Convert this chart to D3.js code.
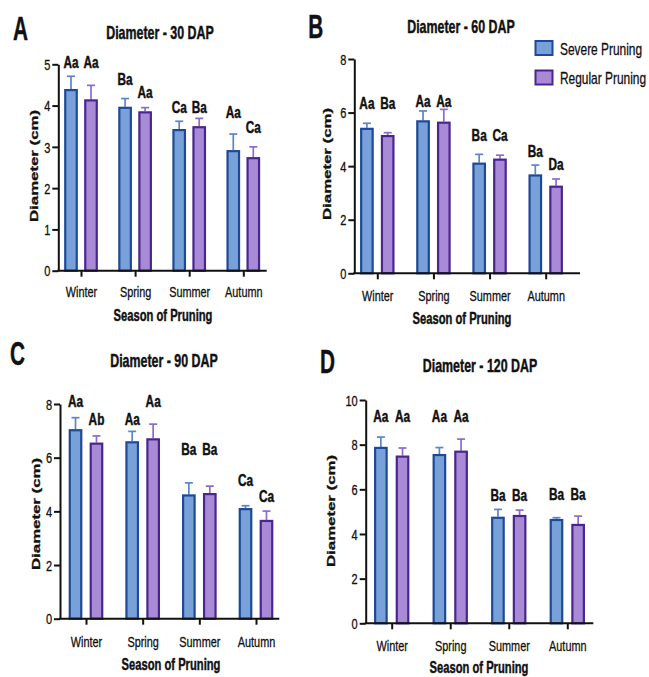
<!DOCTYPE html>
<html><head><meta charset="utf-8">
<script src="https://cdn.jsdelivr.net/npm/d3@7"></script>
<style>body{margin:0;background:#fff} svg{display:block} text{font-family:"Liberation Sans",Arial,sans-serif}</style>
</head><body><svg id="c" width="649" height="677"></svg>
<script>
// ---------- data ----------
const seasons = ["Winter", "Spring", "Summer", "Autumn"];
const seriesNames = ["Severe Pruning", "Regular Pruning"];
const panelTitles = ["Diameter - 30 DAP", "Diameter - 60 DAP", "Diameter - 90 DAP", "Diameter - 120 DAP"];
const panelTags = ["A", "B", "C", "D"];
const yAxisTitle = "Diameter (cm)";
const xAxisTitle = "Season of Pruning";
const yMaxes = [5, 8, 8, 10];
const yTickSteps = [1, 2, 2, 2];

// 30 DAP
const severe30 = [4.40, 3.97, 3.43, 2.92];
const severe30Err = [0.31, 0.20, 0.19, 0.39];
const regular30 = [4.15, 3.86, 3.50, 2.75];
const regular30Err = [0.34, 0.09, 0.19, 0.25];
const severe30Letters = ["Aa", "Ba", "Ca", "Aa"];
const regular30Letters = ["Aa", "Aa", "Ba", "Ca"];
const severe30LetterAt = [5.05, 4.64, 3.96, 3.84];
const regular30LetterAt = [5.05, 4.33, 3.96, 3.48];
// 60 DAP
const severe60 = [5.43, 5.71, 4.13, 3.69];
const severe60Err = [0.17, 0.35, 0.31, 0.35];
const regular60 = [5.16, 5.66, 4.28, 3.27];
const regular60Err = [0.09, 0.46, 0.13, 0.25];
const severe60Letters = ["Aa", "Aa", "Ba", "Ba"];
const regular60Letters = ["Ba", "Aa", "Ca", "Da"];
const severe60LetterAt = [6.34, 6.43, 5.16, 4.57];
const regular60LetterAt = [6.34, 6.43, 5.16, 4.08];
// 90 DAP
const severe90 = [7.06, 6.61, 4.63, 4.12];
const severe90Err = [0.43, 0.37, 0.43, 0.09];
const regular90 = [6.56, 6.72, 4.68, 3.68];
const regular90Err = [0.25, 0.53, 0.26, 0.33];
const severe90Letters = ["Aa", "Aa", "Ba", "Ca"];
const regular90Letters = ["Ab", "Aa", "Ba", "Ca"];
const severe90LetterAt = [8.09, 7.43, 6.32, 5.16];
const regular90LetterAt = [7.43, 8.09, 6.32, 4.55];
// 120 DAP
const severe120 = [7.90, 7.58, 4.77, 4.67];
const severe120Err = [0.44, 0.29, 0.33, 0.06];
const regular120 = [7.51, 7.73, 4.85, 4.45];
const regular120Err = [0.34, 0.52, 0.22, 0.35];
const severe120Letters = ["Aa", "Aa", "Ba", "Ba"];
const regular120Letters = ["Aa", "Aa", "Ba", "Ba"];
const severe120LetterAt = [9.28, 9.28, 5.75, 5.79];
const regular120LetterAt = [9.28, 9.28, 5.75, 5.79];

// ---------- styles / layout ----------
const S = 0.72; // horizontal squish of the original figure
const colors = {
  severe: { fill: "#79a1d9", stroke: "#1d4996", err: "#5a85cc" },
  regular: { fill: "#a88ad7", stroke: "#48268e", err: "#8b6cca" }
};
const layouts = [
  { x0: 58.3, xEnd: 266.7, yTop: 64.3, yBot: 270.7, c0: 81, c1: 243.3, titleX: 160, titleY: 39.3, tagX: 13, tagY: 40, yTitleX: 37.5, yTitleY: 166, tickDy: 26, xTitleX: 163, xTitleY: 320.5 },
  { x0: 354.3, xEnd: 580, yTop: 59, yBot: 273.3, c0: 377.3, c1: 545.7, titleX: 461, titleY: 32.5, tagX: 308.3, tagY: 38.3, yTitleX: 331, yTitleY: 164, tickDy: 27.7, xTitleX: 462, xTitleY: 324 },
  { x0: 60, xEnd: 279.3, yTop: 404, yBot: 618.7, c0: 86, c1: 256, titleX: 164, titleY: 366.5, tagX: 10, tagY: 365, yTitleX: 40, yTitleY: 514, tickDy: 28.3, xTitleX: 171, xTitleY: 670 },
  { x0: 365.7, xEnd: 593.3, yTop: 400, yBot: 623.3, c0: 391.7, c1: 567.3, titleX: 480, titleY: 371.5, tagX: 320, tagY: 373.3, yTitleX: 335, yTitleY: 511, tickDy: 27.7, xTitleX: 479, xTitleY: 673 }
];

const panels = [
  { sev: severe30, sevErr: severe30Err, reg: regular30, regErr: regular30Err, sevL: severe30Letters, regL: regular30Letters, sevLA: severe30LetterAt, regLA: regular30LetterAt },
  { sev: severe60, sevErr: severe60Err, reg: regular60, regErr: regular60Err, sevL: severe60Letters, regL: regular60Letters, sevLA: severe60LetterAt, regLA: regular60LetterAt },
  { sev: severe90, sevErr: severe90Err, reg: regular90, regErr: regular90Err, sevL: severe90Letters, regL: regular90Letters, sevLA: severe90LetterAt, regLA: regular90LetterAt },
  { sev: severe120, sevErr: severe120Err, reg: regular120, regErr: regular120Err, sevL: severe120Letters, regL: regular120Letters, sevLA: severe120LetterAt, regLA: regular120LetterAt }
];

const svg = d3.select("#c");

function label(parent, x, y, str, o) {
  const g = parent.append("g")
    .attr("transform", `translate(${x},${y}) scale(${o.sx ?? S},1)` + (o.rot ? " rotate(-90)" : ""));
  return g.append("text")
    .attr("text-anchor", o.anchor || "middle")
    .attr("font-size", o.size)
    .attr("font-weight", o.weight || "normal")
    .attr("fill", "#111")
    .attr("stroke", "#111").attr("stroke-width", o.weight === "bold" ? 0.45 : 0.3)
    .text(str);
}

panels.forEach((p, i) => {
  const L = layouts[i];
  const g = svg.append("g");
  const y = d3.scaleLinear().domain([0, yMaxes[i]]).range([L.yBot, L.yTop]);
  const x = d3.scalePoint().domain(seasons).range([L.c0, L.c1]);
  const step = x.step();
  const off = step * 0.185, bw = 13.5;

  const series = [
    { vals: p.sev, err: p.sevErr, lab: p.sevL, la: p.sevLA, c: colors.severe, dx: -off },
    { vals: p.reg, err: p.regErr, lab: p.regL, la: p.regLA, c: colors.regular, dx: off }
  ];
  series.forEach(s => {
    seasons.forEach((season, k) => {
      const cx = x(season) + s.dx;
      const v = s.vals[k], e = s.err[k];
      g.append("line").attr("x1", cx).attr("x2", cx).attr("y1", y(v)).attr("y2", y(v + e))
        .attr("stroke", s.c.err).attr("stroke-width", 1.7);
      g.append("line").attr("x1", cx - 4).attr("x2", cx + 4).attr("y1", y(v + e)).attr("y2", y(v + e))
        .attr("stroke", s.c.err).attr("stroke-width", 1.7);
      g.append("rect").attr("x", cx - bw / 2 + 1).attr("y", y(v) + 1)
        .attr("width", bw - 2).attr("height", y(0) - y(v) - 1)
        .attr("fill", s.c.fill).attr("stroke", s.c.stroke).attr("stroke-width", 2.2);
      label(g, cx, y(s.la[k]) + 5.8, s.lab[k], { size: 16, weight: "bold", sx: 0.74 });
    });
  });

  // y axis
  const yAxis = d3.axisLeft(y).tickValues(d3.range(0, yMaxes[i] + 0.001, yTickSteps[i]))
    .tickSize(6).tickSizeOuter(0).tickFormat(d3.format("d"));
  const ya = g.append("g").attr("transform", `translate(${L.x0},0)`).call(yAxis);
  ya.select(".domain").attr("stroke", "#111").attr("stroke-width", 2);
  ya.selectAll(".tick line").attr("stroke", "#111").attr("stroke-width", 2);
  ya.selectAll(".tick text").attr("x", 0).attr("dy", "0.36em")
    .attr("transform", `translate(-8,0) scale(0.76,1)`)
    .attr("font-size", 14.5).attr("fill", "#111").attr("stroke", "#111").attr("stroke-width", 0.3)
    .attr("font-family", null);

  // x axis
  const xAxis = d3.axisBottom(x).tickSize(6).tickSizeOuter(0);
  const xa = g.append("g").attr("transform", `translate(0,${L.yBot})`).call(xAxis);
  xa.select(".domain").remove();
  xa.append("line").attr("x1", L.x0 - 1).attr("x2", L.xEnd).attr("y1", 0).attr("y2", 0)
    .attr("stroke", "#111").attr("stroke-width", 2);
  xa.selectAll(".tick line").attr("stroke", "#111").attr("stroke-width", 2);
  xa.selectAll(".tick text").attr("y", 0).attr("dy", 0)
    .attr("transform", `translate(0,${L.tickDy}) scale(0.75,1)`)
    .attr("font-size", 14.5).attr("fill", "#111").attr("stroke", "#111").attr("stroke-width", 0.3)
    .attr("font-family", null);

  // titles
  label(g, L.titleX, L.titleY, panelTitles[i], { size: 18, weight: "bold", sx: 0.69 });
  label(g, L.tagX, L.tagY, panelTags[i], { size: 33, weight: "bold", sx: 0.63, anchor: "start" });
  label(g, L.xTitleX, L.xTitleY, xAxisTitle, { size: 16, weight: "bold", sx: 0.7 });
  label(g, L.yTitleX, L.yTitleY, yAxisTitle, { size: 16.8, weight: "bold", sx: 0.7, rot: true });
});

// legend
const lg = svg.append("g");
const legendKeys = [colors.severe, colors.regular];
seriesNames.forEach((name, k) => {
  const yy = 41 + k * 29.5;
  lg.append("rect").attr("x", 535.5).attr("y", yy).attr("width", 17).attr("height", 14)
    .attr("fill", legendKeys[k].fill).attr("stroke", legendKeys[k].stroke).attr("stroke-width", 2);
  label(lg, 560, yy + 13.8, name, { size: 16, sx: 0.745, anchor: "start" });
});
</script></body></html>
